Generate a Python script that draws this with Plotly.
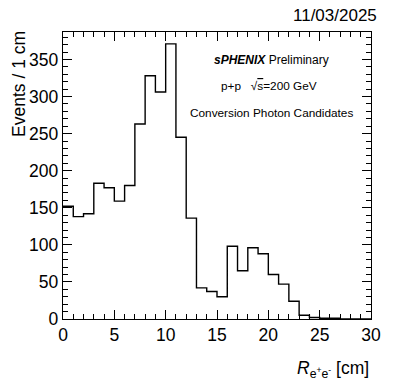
import plotly.graph_objects as go

# Histogram data: bin edges (cm) and counts per 1 cm bin
bin_edges = list(range(0, 31))
counts = [152, 138, 142, 183, 177, 159, 180, 263, 328, 306,
          371, 245, 136, 42, 37, 30, 98, 65, 96, 88,
          60, 47, 24, 5, 2, 1, 1, 0, 0, 0]

x_step = bin_edges
y_step = counts + [counts[-1]]

FONT = "Liberation Sans, Arial, Helvetica, sans-serif"

fig = go.Figure()
fig.add_trace(go.Scatter(
    x=x_step, y=y_step, mode="lines", line_shape="hv",
    line=dict(color="black", width=1.4), showlegend=False, hoverinfo="skip"))

axis_common = dict(
    showgrid=False, zeroline=False, showline=True, linecolor="black", linewidth=1.4,
    mirror="allticks", ticks="inside", tickcolor="black", tickwidth=1,
    tickfont=dict(family=FONT, size=17.5, color="black"),
)

fig.update_xaxes(range=[0, 30], dtick=5, tick0=0, ticklen=9,
                 minor=dict(dtick=1, ticks="inside", ticklen=4.5, tickcolor="black"),
                 **axis_common)
fig.update_yaxes(range=[0, 387], dtick=50, tick0=0, ticklen=9,
                 minor=dict(dtick=10, ticks="inside", ticklen=4.5, tickcolor="black"),
                 **axis_common)

ann = []
ann.append(dict(text="11/03/2025", x=1.026, y=1.057, xanchor="right", yanchor="middle",
                font=dict(family=FONT, size=17, color="black")))
ann.append(dict(text="Events / 1 cm", x=-0.145, y=1.012, xanchor="center", yanchor="top",
                textangle=-90, font=dict(family=FONT, size=17.5, color="black")))
ann.append(dict(text="<i>R</i><sub>e<sup>+</sup>e<sup>-</sup></sub> [cm]", x=1.0, y=-0.176,
                xanchor="right", yanchor="middle",
                font=dict(family=FONT, size=17.5, color="black")))
ann.append(dict(text="<b><i>sPHENIX</i></b> Preliminary", x=(274 - 63) / 311, y=(319.3 - 60) / 287.8,
                xanchor="center", yanchor="middle", font=dict(family=FONT, size=12, color="black")))
ann.append(dict(text="p+p   √<span style='text-decoration:overline'>s</span>=200 GeV",
                x=(271 - 63) / 311, y=(319.3 - 86) / 287.8,
                xanchor="center", yanchor="middle", font=dict(family=FONT, size=11.8, color="black")))
ann.append(dict(text="Conversion Photon Candidates", x=(273.5 - 63) / 311, y=(319.3 - 113) / 287.8,
                xanchor="center", yanchor="middle", font=dict(family=FONT, size=11.8, color="black")))
for a in ann:
    a.update(xref="paper", yref="paper", showarrow=False)

fig.update_layout(
    width=393, height=381,
    margin=dict(l=63, r=19, t=31.5, b=61.7),
    paper_bgcolor="white", plot_bgcolor="white",
    annotations=ann,
)

fig.write_html("out.html", config={"displayModeBar": False},
               post_script="document.body.style.margin='0';document.body.style.overflow='hidden';")
